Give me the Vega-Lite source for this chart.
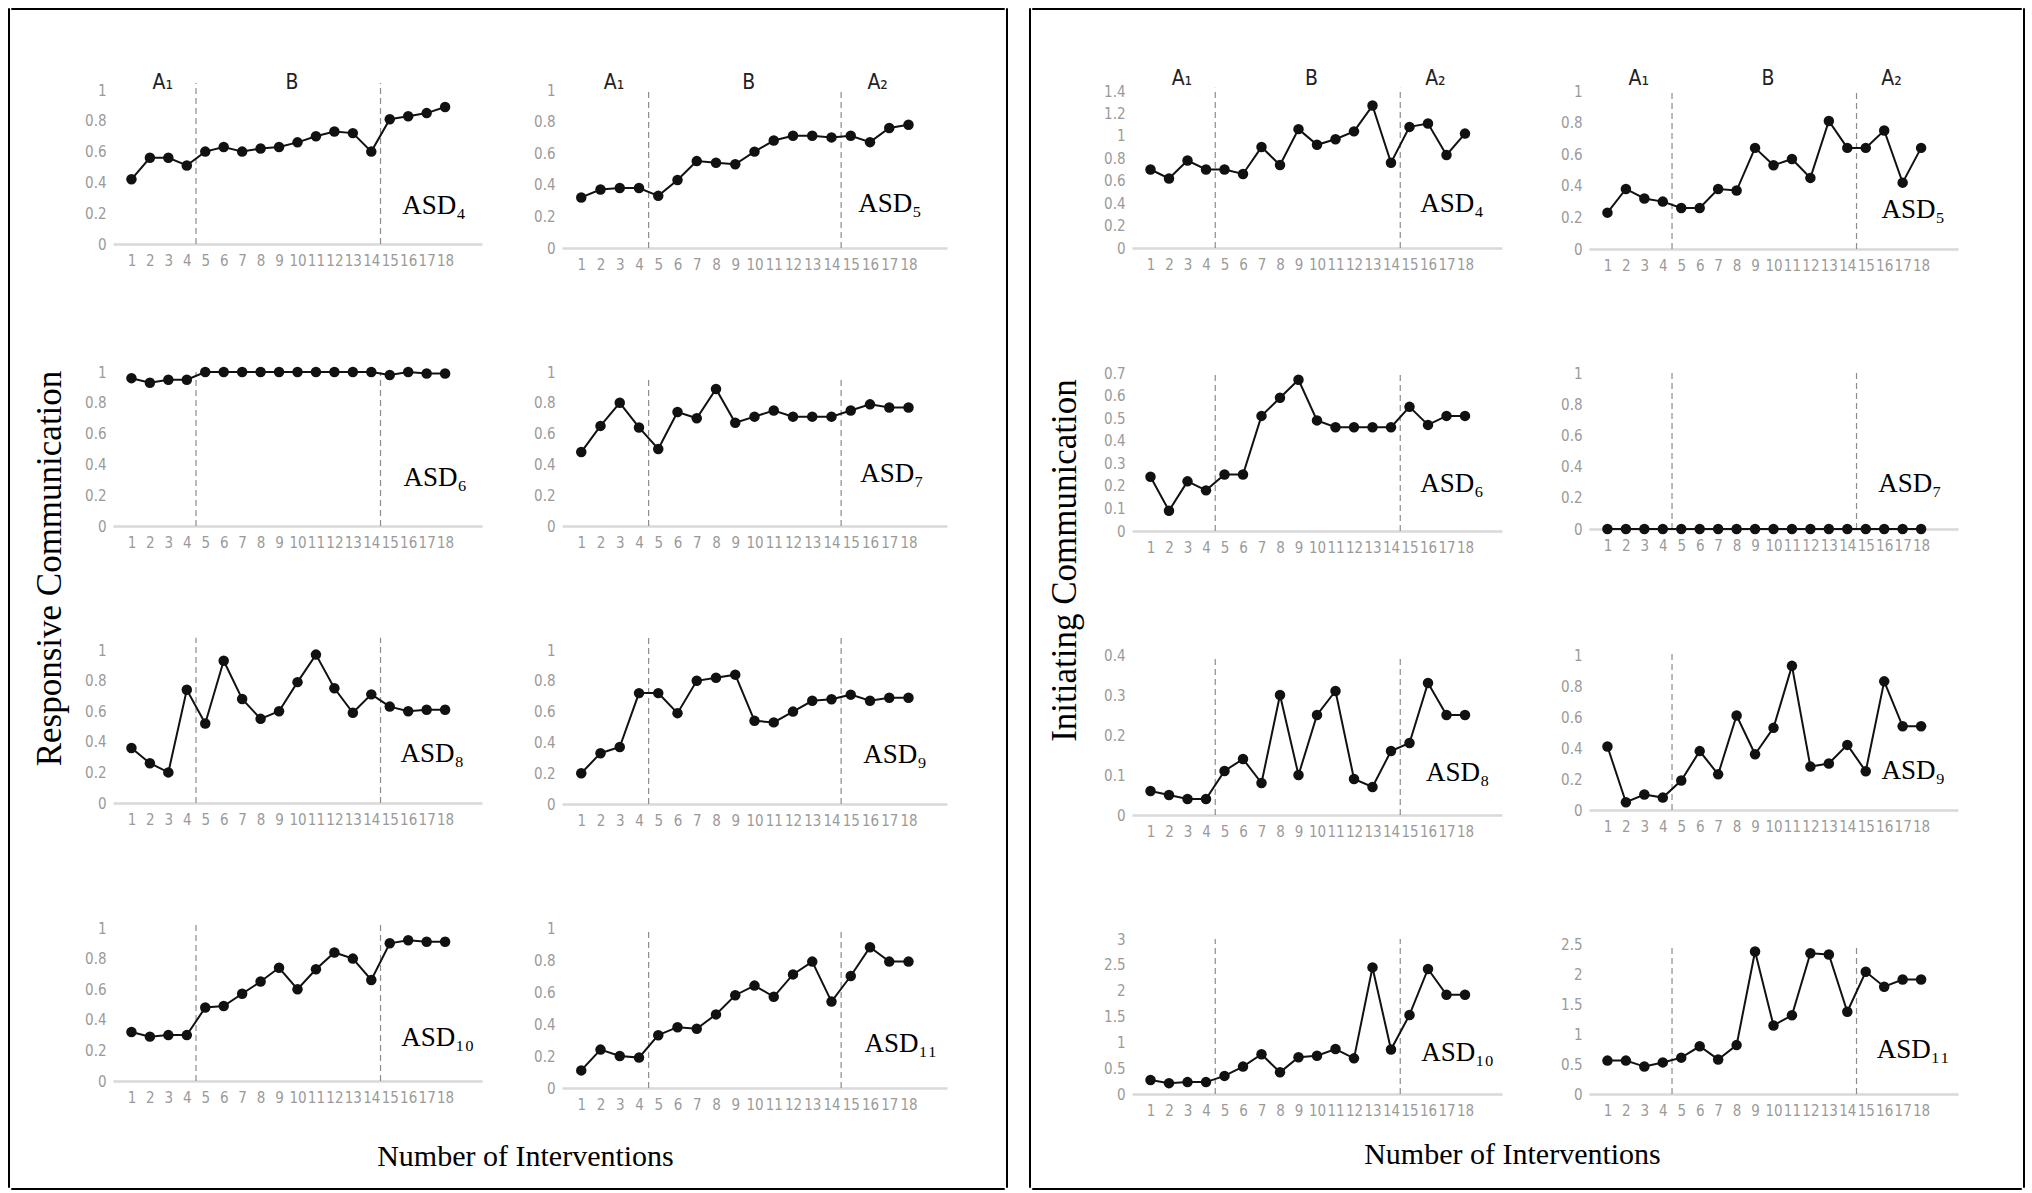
{
  "$schema": "https://vega.github.io/schema/vega-lite/v6.json",
  "background": "white",
  "padding": {"left": 7, "top": 7, "right": 0, "bottom": 0},
  "datasets": {
    "bounds": [{"x": 4.5}, {"x": 14.5}],
    "phases": [{"p": "A₁", "x": 2.7}, {"p": "B", "x": 9.7}, {"p": "A₂", "x": 16.4}],
    "resp": [
      {"a":4,"s":1,"v":0.42},{"a":4,"s":2,"v":0.56},{"a":4,"s":3,"v":0.56},{"a":4,"s":4,"v":0.51},{"a":4,"s":5,"v":0.6},{"a":4,"s":6,"v":0.63},{"a":4,"s":7,"v":0.6},{"a":4,"s":8,"v":0.62},{"a":4,"s":9,"v":0.63},{"a":4,"s":10,"v":0.66},{"a":4,"s":11,"v":0.7},{"a":4,"s":12,"v":0.73},{"a":4,"s":13,"v":0.72},{"a":4,"s":14,"v":0.6},{"a":4,"s":15,"v":0.81},{"a":4,"s":16,"v":0.83},{"a":4,"s":17,"v":0.85},{"a":4,"s":18,"v":0.89},
      {"a":5,"s":1,"v":0.32},{"a":5,"s":2,"v":0.37},{"a":5,"s":3,"v":0.38},{"a":5,"s":4,"v":0.38},{"a":5,"s":5,"v":0.33},{"a":5,"s":6,"v":0.43},{"a":5,"s":7,"v":0.55},{"a":5,"s":8,"v":0.54},{"a":5,"s":9,"v":0.53},{"a":5,"s":10,"v":0.61},{"a":5,"s":11,"v":0.68},{"a":5,"s":12,"v":0.71},{"a":5,"s":13,"v":0.71},{"a":5,"s":14,"v":0.7},{"a":5,"s":15,"v":0.71},{"a":5,"s":16,"v":0.67},{"a":5,"s":17,"v":0.76},{"a":5,"s":18,"v":0.78},
      {"a":6,"s":1,"v":0.96},{"a":6,"s":2,"v":0.93},{"a":6,"s":3,"v":0.95},{"a":6,"s":4,"v":0.95},{"a":6,"s":5,"v":1},{"a":6,"s":6,"v":1},{"a":6,"s":7,"v":1},{"a":6,"s":8,"v":1},{"a":6,"s":9,"v":1},{"a":6,"s":10,"v":1},{"a":6,"s":11,"v":1},{"a":6,"s":12,"v":1},{"a":6,"s":13,"v":1},{"a":6,"s":14,"v":1},{"a":6,"s":15,"v":0.98},{"a":6,"s":16,"v":1},{"a":6,"s":17,"v":0.99},{"a":6,"s":18,"v":0.99},
      {"a":7,"s":1,"v":0.48},{"a":7,"s":2,"v":0.65},{"a":7,"s":3,"v":0.8},{"a":7,"s":4,"v":0.64},{"a":7,"s":5,"v":0.5},{"a":7,"s":6,"v":0.74},{"a":7,"s":7,"v":0.7},{"a":7,"s":8,"v":0.89},{"a":7,"s":9,"v":0.67},{"a":7,"s":10,"v":0.71},{"a":7,"s":11,"v":0.75},{"a":7,"s":12,"v":0.71},{"a":7,"s":13,"v":0.71},{"a":7,"s":14,"v":0.71},{"a":7,"s":15,"v":0.75},{"a":7,"s":16,"v":0.79},{"a":7,"s":17,"v":0.77},{"a":7,"s":18,"v":0.77},
      {"a":8,"s":1,"v":0.36},{"a":8,"s":2,"v":0.26},{"a":8,"s":3,"v":0.2},{"a":8,"s":4,"v":0.74},{"a":8,"s":5,"v":0.52},{"a":8,"s":6,"v":0.93},{"a":8,"s":7,"v":0.68},{"a":8,"s":8,"v":0.55},{"a":8,"s":9,"v":0.6},{"a":8,"s":10,"v":0.79},{"a":8,"s":11,"v":0.97},{"a":8,"s":12,"v":0.75},{"a":8,"s":13,"v":0.59},{"a":8,"s":14,"v":0.71},{"a":8,"s":15,"v":0.63},{"a":8,"s":16,"v":0.6},{"a":8,"s":17,"v":0.61},{"a":8,"s":18,"v":0.61},
      {"a":9,"s":1,"v":0.2},{"a":9,"s":2,"v":0.33},{"a":9,"s":3,"v":0.37},{"a":9,"s":4,"v":0.72},{"a":9,"s":5,"v":0.72},{"a":9,"s":6,"v":0.59},{"a":9,"s":7,"v":0.8},{"a":9,"s":8,"v":0.82},{"a":9,"s":9,"v":0.84},{"a":9,"s":10,"v":0.54},{"a":9,"s":11,"v":0.53},{"a":9,"s":12,"v":0.6},{"a":9,"s":13,"v":0.67},{"a":9,"s":14,"v":0.68},{"a":9,"s":15,"v":0.71},{"a":9,"s":16,"v":0.67},{"a":9,"s":17,"v":0.69},{"a":9,"s":18,"v":0.69},
      {"a":10,"s":1,"v":0.32},{"a":10,"s":2,"v":0.29},{"a":10,"s":3,"v":0.3},{"a":10,"s":4,"v":0.3},{"a":10,"s":5,"v":0.48},{"a":10,"s":6,"v":0.49},{"a":10,"s":7,"v":0.57},{"a":10,"s":8,"v":0.65},{"a":10,"s":9,"v":0.74},{"a":10,"s":10,"v":0.6},{"a":10,"s":11,"v":0.73},{"a":10,"s":12,"v":0.84},{"a":10,"s":13,"v":0.8},{"a":10,"s":14,"v":0.66},{"a":10,"s":15,"v":0.9},{"a":10,"s":16,"v":0.92},{"a":10,"s":17,"v":0.91},{"a":10,"s":18,"v":0.91},
      {"a":11,"s":1,"v":0.11},{"a":11,"s":2,"v":0.24},{"a":11,"s":3,"v":0.2},{"a":11,"s":4,"v":0.19},{"a":11,"s":5,"v":0.33},{"a":11,"s":6,"v":0.38},{"a":11,"s":7,"v":0.37},{"a":11,"s":8,"v":0.46},{"a":11,"s":9,"v":0.58},{"a":11,"s":10,"v":0.64},{"a":11,"s":11,"v":0.57},{"a":11,"s":12,"v":0.71},{"a":11,"s":13,"v":0.79},{"a":11,"s":14,"v":0.54},{"a":11,"s":15,"v":0.7},{"a":11,"s":16,"v":0.88},{"a":11,"s":17,"v":0.79},{"a":11,"s":18,"v":0.79}
    ],
    "init": [
      {"a":4,"s":1,"v":0.7},{"a":4,"s":2,"v":0.62},{"a":4,"s":3,"v":0.78},{"a":4,"s":4,"v":0.7},{"a":4,"s":5,"v":0.7},{"a":4,"s":6,"v":0.66},{"a":4,"s":7,"v":0.9},{"a":4,"s":8,"v":0.74},{"a":4,"s":9,"v":1.06},{"a":4,"s":10,"v":0.92},{"a":4,"s":11,"v":0.97},{"a":4,"s":12,"v":1.04},{"a":4,"s":13,"v":1.27},{"a":4,"s":14,"v":0.76},{"a":4,"s":15,"v":1.08},{"a":4,"s":16,"v":1.11},{"a":4,"s":17,"v":0.83},{"a":4,"s":18,"v":1.02},
      {"a":5,"s":1,"v":0.23},{"a":5,"s":2,"v":0.38},{"a":5,"s":3,"v":0.32},{"a":5,"s":4,"v":0.3},{"a":5,"s":5,"v":0.26},{"a":5,"s":6,"v":0.26},{"a":5,"s":7,"v":0.38},{"a":5,"s":8,"v":0.37},{"a":5,"s":9,"v":0.64},{"a":5,"s":10,"v":0.53},{"a":5,"s":11,"v":0.57},{"a":5,"s":12,"v":0.45},{"a":5,"s":13,"v":0.81},{"a":5,"s":14,"v":0.64},{"a":5,"s":15,"v":0.64},{"a":5,"s":16,"v":0.75},{"a":5,"s":17,"v":0.42},{"a":5,"s":18,"v":0.64},
      {"a":6,"s":1,"v":0.24},{"a":6,"s":2,"v":0.09},{"a":6,"s":3,"v":0.22},{"a":6,"s":4,"v":0.18},{"a":6,"s":5,"v":0.25},{"a":6,"s":6,"v":0.25},{"a":6,"s":7,"v":0.51},{"a":6,"s":8,"v":0.59},{"a":6,"s":9,"v":0.67},{"a":6,"s":10,"v":0.49},{"a":6,"s":11,"v":0.46},{"a":6,"s":12,"v":0.46},{"a":6,"s":13,"v":0.46},{"a":6,"s":14,"v":0.46},{"a":6,"s":15,"v":0.55},{"a":6,"s":16,"v":0.47},{"a":6,"s":17,"v":0.51},{"a":6,"s":18,"v":0.51},
      {"a":7,"s":1,"v":0},{"a":7,"s":2,"v":0},{"a":7,"s":3,"v":0},{"a":7,"s":4,"v":0},{"a":7,"s":5,"v":0},{"a":7,"s":6,"v":0},{"a":7,"s":7,"v":0},{"a":7,"s":8,"v":0},{"a":7,"s":9,"v":0},{"a":7,"s":10,"v":0},{"a":7,"s":11,"v":0},{"a":7,"s":12,"v":0},{"a":7,"s":13,"v":0},{"a":7,"s":14,"v":0},{"a":7,"s":15,"v":0},{"a":7,"s":16,"v":0},{"a":7,"s":17,"v":0},{"a":7,"s":18,"v":0},
      {"a":8,"s":1,"v":0.06},{"a":8,"s":2,"v":0.05},{"a":8,"s":3,"v":0.04},{"a":8,"s":4,"v":0.04},{"a":8,"s":5,"v":0.11},{"a":8,"s":6,"v":0.14},{"a":8,"s":7,"v":0.08},{"a":8,"s":8,"v":0.3},{"a":8,"s":9,"v":0.1},{"a":8,"s":10,"v":0.25},{"a":8,"s":11,"v":0.31},{"a":8,"s":12,"v":0.09},{"a":8,"s":13,"v":0.07},{"a":8,"s":14,"v":0.16},{"a":8,"s":15,"v":0.18},{"a":8,"s":16,"v":0.33},{"a":8,"s":17,"v":0.25},{"a":8,"s":18,"v":0.25},
      {"a":9,"s":1,"v":0.41},{"a":9,"s":2,"v":0.05},{"a":9,"s":3,"v":0.1},{"a":9,"s":4,"v":0.08},{"a":9,"s":5,"v":0.19},{"a":9,"s":6,"v":0.38},{"a":9,"s":7,"v":0.23},{"a":9,"s":8,"v":0.61},{"a":9,"s":9,"v":0.36},{"a":9,"s":10,"v":0.53},{"a":9,"s":11,"v":0.93},{"a":9,"s":12,"v":0.28},{"a":9,"s":13,"v":0.3},{"a":9,"s":14,"v":0.42},{"a":9,"s":15,"v":0.25},{"a":9,"s":16,"v":0.83},{"a":9,"s":17,"v":0.54},{"a":9,"s":18,"v":0.54},
      {"a":10,"s":1,"v":0.27},{"a":10,"s":2,"v":0.21},{"a":10,"s":3,"v":0.23},{"a":10,"s":4,"v":0.23},{"a":10,"s":5,"v":0.35},{"a":10,"s":6,"v":0.53},{"a":10,"s":7,"v":0.77},{"a":10,"s":8,"v":0.42},{"a":10,"s":9,"v":0.71},{"a":10,"s":10,"v":0.74},{"a":10,"s":11,"v":0.87},{"a":10,"s":12,"v":0.69},{"a":10,"s":13,"v":2.45},{"a":10,"s":14,"v":0.86},{"a":10,"s":15,"v":1.53},{"a":10,"s":16,"v":2.42},{"a":10,"s":17,"v":1.92},{"a":10,"s":18,"v":1.92},
      {"a":11,"s":1,"v":0.56},{"a":11,"s":2,"v":0.56},{"a":11,"s":3,"v":0.46},{"a":11,"s":4,"v":0.53},{"a":11,"s":5,"v":0.61},{"a":11,"s":6,"v":0.8},{"a":11,"s":7,"v":0.58},{"a":11,"s":8,"v":0.82},{"a":11,"s":9,"v":2.39},{"a":11,"s":10,"v":1.15},{"a":11,"s":11,"v":1.32},{"a":11,"s":12,"v":2.36},{"a":11,"s":13,"v":2.34},{"a":11,"s":14,"v":1.38},{"a":11,"s":15,"v":2.05},{"a":11,"s":16,"v":1.8},{"a":11,"s":17,"v":1.92},{"a":11,"s":18,"v":1.92}
    ]
  },
  "spacing": 20,
  "hconcat": [
    {
      "spacing": 0,
      "hconcat": [
        {"width": 1, "height": 1179, "data": {"values": []}, "mark": "point", "view": {"stroke": "#000", "strokeWidth": 1}},
        {
          "spacing": 61,
          "vconcat": [
            {"width": 993, "height": 1, "data": {"values": []}, "mark": "point", "view": {"stroke": "#000", "strokeWidth": 1}},
            {
              "spacing": 16,
              "vconcat": [
                {
                  "spacing": 20,
                  "hconcat": [
                    {"width": 1, "height": 1, "data": {"values": []}, "mark": "point"},
                    {
                      "columns": 2,
                      "spacing": {"row": 124, "column": 80},
                      "bounds": "flush",
                      "concat": [
                        {"width": 369, "height": 154, "layer": [
                          {"data": {"name": "bounds"}, "mark": {"type": "rule", "color": "#8c8c8c", "strokeDash": [6, 4], "strokeWidth": 1.2}, "encoding": {"x": {"field": "x", "type": "quantitative"}, "y": {"datum": 0}, "y2": {"datum": 1.045}}},
                          {"data": {"name": "resp"}, "transform": [{"filter": "datum.a == 4"}], "mark": {"type": "line", "color": "#111", "strokeWidth": 2, "point": {"filled": true, "size": 110, "color": "#111"}}, "encoding": {"x": {"field": "s", "type": "quantitative", "scale": {"domain": [0.5, 18.5]}, "axis": {"values": [1,2,3,4,5,6,7,8,9,10,11,12,13,14,15,16,17,18], "format": "d", "tickCount": 30, "labelOverlap": false, "title": null}}, "y": {"field": "v", "type": "quantitative", "scale": {"domain": [0, 1]}, "axis": {"values": [0,0.2,0.4,0.6,0.8,1], "tickCount": 30, "format": "~g", "labelOverlap": false, "title": null}}}},
                          {"data": {"name": "phases"}, "transform": [{"filter": "datum.p != 'A₂'"}], "mark": {"type": "text", "font": "Liberation Sans Narrow, DejaVu Sans Condensed, Liberation Sans, sans-serif", "fontSize": 21, "color": "#222"}, "encoding": {"x": {"field": "x", "type": "quantitative"}, "y": {"datum": 1.045}, "text": {"field": "p"}}},
                          {"data": {"values": [{"t": "ASD₄"}]}, "mark": {"type": "text", "font": "Liberation Serif", "fontSize": 27}, "encoding": {"x": {"datum": 17.4}, "y": {"datum": 0.25}, "text": {"field": "t"}}}
                        ]},
                        {"width": 385, "height": 158, "layer": [
                          {"data": {"name": "bounds"}, "mark": {"type": "rule", "color": "#8c8c8c", "strokeDash": [6, 4], "strokeWidth": 1.2}, "encoding": {"x": {"field": "x", "type": "quantitative"}, "y": {"datum": 0}, "y2": {"datum": 1.0}}},
                          {"data": {"name": "resp"}, "transform": [{"filter": "datum.a == 5"}], "mark": {"type": "line", "color": "#111", "strokeWidth": 2, "point": {"filled": true, "size": 110, "color": "#111"}}, "encoding": {"x": {"field": "s", "type": "quantitative", "scale": {"domain": [0.5, 18.5]}, "axis": {"values": [1,2,3,4,5,6,7,8,9,10,11,12,13,14,15,16,17,18], "format": "d", "tickCount": 30, "labelOverlap": false, "title": null}}, "y": {"field": "v", "type": "quantitative", "scale": {"domain": [0, 1]}, "axis": {"values": [0,0.2,0.4,0.6,0.8,1], "tickCount": 30, "format": "~g", "labelOverlap": false, "title": null}}}},
                          {"data": {"name": "phases"}, "mark": {"type": "text", "font": "Liberation Sans Narrow, DejaVu Sans Condensed, Liberation Sans, sans-serif", "fontSize": 21, "color": "#222"}, "encoding": {"x": {"field": "x", "type": "quantitative"}, "y": {"datum": 1.045}, "text": {"field": "p"}}},
                          {"data": {"values": [{"t": "ASD₅"}]}, "mark": {"type": "text", "font": "Liberation Serif", "fontSize": 27}, "encoding": {"x": {"datum": 17.04}, "y": {"datum": 0.28}, "text": {"field": "t"}}}
                        ]},
                        {"width": 369, "height": 154, "layer": [
                          {"data": {"name": "bounds"}, "mark": {"type": "rule", "color": "#8c8c8c", "strokeDash": [6, 4], "strokeWidth": 1.2}, "encoding": {"x": {"field": "x", "type": "quantitative"}, "y": {"datum": 0}, "y2": {"datum": 1.0}}},
                          {"data": {"name": "resp"}, "transform": [{"filter": "datum.a == 6"}], "mark": {"type": "line", "color": "#111", "strokeWidth": 2, "point": {"filled": true, "size": 110, "color": "#111"}}, "encoding": {"x": {"field": "s", "type": "quantitative", "scale": {"domain": [0.5, 18.5]}, "axis": {"values": [1,2,3,4,5,6,7,8,9,10,11,12,13,14,15,16,17,18], "format": "d", "tickCount": 30, "labelOverlap": false, "title": null}}, "y": {"field": "v", "type": "quantitative", "scale": {"domain": [0, 1]}, "axis": {"values": [0,0.2,0.4,0.6,0.8,1], "tickCount": 30, "format": "~g", "labelOverlap": false, "title": null}}}},
                          {"data": {"values": [{"t": "ASD₆"}]}, "mark": {"type": "text", "font": "Liberation Serif", "fontSize": 27}, "encoding": {"x": {"datum": 17.47}, "y": {"datum": 0.31}, "text": {"field": "t"}}}
                        ]},
                        {"width": 385, "height": 154, "layer": [
                          {"data": {"name": "bounds"}, "mark": {"type": "rule", "color": "#8c8c8c", "strokeDash": [6, 4], "strokeWidth": 1.2}, "encoding": {"x": {"field": "x", "type": "quantitative"}, "y": {"datum": 0}, "y2": {"datum": 0.95}}},
                          {"data": {"name": "resp"}, "transform": [{"filter": "datum.a == 7"}], "mark": {"type": "line", "color": "#111", "strokeWidth": 2, "point": {"filled": true, "size": 110, "color": "#111"}}, "encoding": {"x": {"field": "s", "type": "quantitative", "scale": {"domain": [0.5, 18.5]}, "axis": {"values": [1,2,3,4,5,6,7,8,9,10,11,12,13,14,15,16,17,18], "format": "d", "tickCount": 30, "labelOverlap": false, "title": null}}, "y": {"field": "v", "type": "quantitative", "scale": {"domain": [0, 1]}, "axis": {"values": [0,0.2,0.4,0.6,0.8,1], "tickCount": 30, "format": "~g", "labelOverlap": false, "title": null}}}},
                          {"data": {"values": [{"t": "ASD₇"}]}, "mark": {"type": "text", "font": "Liberation Serif", "fontSize": 27}, "encoding": {"x": {"datum": 17.14}, "y": {"datum": 0.34}, "text": {"field": "t"}}}
                        ]},
                        {"width": 369, "height": 153, "layer": [
                          {"data": {"name": "bounds"}, "mark": {"type": "rule", "color": "#8c8c8c", "strokeDash": [6, 4], "strokeWidth": 1.2}, "encoding": {"x": {"field": "x", "type": "quantitative"}, "y": {"datum": 0}, "y2": {"datum": 1.08}}},
                          {"data": {"name": "resp"}, "transform": [{"filter": "datum.a == 8"}], "mark": {"type": "line", "color": "#111", "strokeWidth": 2, "point": {"filled": true, "size": 110, "color": "#111"}}, "encoding": {"x": {"field": "s", "type": "quantitative", "scale": {"domain": [0.5, 18.5]}, "axis": {"values": [1,2,3,4,5,6,7,8,9,10,11,12,13,14,15,16,17,18], "format": "d", "tickCount": 30, "labelOverlap": false, "title": null}}, "y": {"field": "v", "type": "quantitative", "scale": {"domain": [0, 1]}, "axis": {"values": [0,0.2,0.4,0.6,0.8,1], "tickCount": 30, "format": "~g", "labelOverlap": false, "title": "Responsive Communication", "titleX": -64, "titleY": -82, "titleBaseline": "middle", "titleAlign": "center", "titleFontSize": 35}}}},
                          {"data": {"values": [{"t": "ASD₈"}]}, "mark": {"type": "text", "font": "Liberation Serif", "fontSize": 27}, "encoding": {"x": {"datum": 17.3}, "y": {"datum": 0.32}, "text": {"field": "t"}}}
                        ]},
                        {"width": 385, "height": 154, "layer": [
                          {"data": {"name": "bounds"}, "mark": {"type": "rule", "color": "#8c8c8c", "strokeDash": [6, 4], "strokeWidth": 1.2}, "encoding": {"x": {"field": "x", "type": "quantitative"}, "y": {"datum": 0}, "y2": {"datum": 1.08}}},
                          {"data": {"name": "resp"}, "transform": [{"filter": "datum.a == 9"}], "mark": {"type": "line", "color": "#111", "strokeWidth": 2, "point": {"filled": true, "size": 110, "color": "#111"}}, "encoding": {"x": {"field": "s", "type": "quantitative", "scale": {"domain": [0.5, 18.5]}, "axis": {"values": [1,2,3,4,5,6,7,8,9,10,11,12,13,14,15,16,17,18], "format": "d", "tickCount": 30, "labelOverlap": false, "title": null}}, "y": {"field": "v", "type": "quantitative", "scale": {"domain": [0, 1]}, "axis": {"values": [0,0.2,0.4,0.6,0.8,1], "tickCount": 30, "format": "~g", "labelOverlap": false, "title": null}}}},
                          {"data": {"values": [{"t": "ASD₉"}]}, "mark": {"type": "text", "font": "Liberation Serif", "fontSize": 27}, "encoding": {"x": {"datum": 17.3}, "y": {"datum": 0.32}, "text": {"field": "t"}}}
                        ]},
                        {"width": 369, "height": 153, "layer": [
                          {"data": {"name": "bounds"}, "mark": {"type": "rule", "color": "#8c8c8c", "strokeDash": [6, 4], "strokeWidth": 1.2}, "encoding": {"x": {"field": "x", "type": "quantitative"}, "y": {"datum": 0}, "y2": {"datum": 1.03}}},
                          {"data": {"name": "resp"}, "transform": [{"filter": "datum.a == 10"}], "mark": {"type": "line", "color": "#111", "strokeWidth": 2, "point": {"filled": true, "size": 110, "color": "#111"}}, "encoding": {"x": {"field": "s", "type": "quantitative", "scale": {"domain": [0.5, 18.5]}, "axis": {"values": [1,2,3,4,5,6,7,8,9,10,11,12,13,14,15,16,17,18], "format": "d", "tickCount": 30, "labelOverlap": false, "title": "Number of Interventions", "titleX": 412, "titleY": 75, "titleBaseline": "middle", "titleAlign": "center", "titleFontSize": 30}}, "y": {"field": "v", "type": "quantitative", "scale": {"domain": [0, 1]}, "axis": {"values": [0,0.2,0.4,0.6,0.8,1], "tickCount": 30, "format": "~g", "labelOverlap": false, "title": null}}}},
                          {"data": {"values": [{"t": "ASD₁₀"}]}, "mark": {"type": "text", "font": "Liberation Serif", "fontSize": 27}, "encoding": {"x": {"datum": 17.6}, "y": {"datum": 0.28}, "text": {"field": "t"}}}
                        ]},
                        {"width": 385, "height": 160, "layer": [
                          {"data": {"name": "bounds"}, "mark": {"type": "rule", "color": "#8c8c8c", "strokeDash": [6, 4], "strokeWidth": 1.2}, "encoding": {"x": {"field": "x", "type": "quantitative"}, "y": {"datum": 0}, "y2": {"datum": 0.98}}},
                          {"data": {"name": "resp"}, "transform": [{"filter": "datum.a == 11"}], "mark": {"type": "line", "color": "#111", "strokeWidth": 2, "point": {"filled": true, "size": 110, "color": "#111"}}, "encoding": {"x": {"field": "s", "type": "quantitative", "scale": {"domain": [0.5, 18.5]}, "axis": {"values": [1,2,3,4,5,6,7,8,9,10,11,12,13,14,15,16,17,18], "format": "d", "tickCount": 30, "labelOverlap": false, "title": null}}, "y": {"field": "v", "type": "quantitative", "scale": {"domain": [0, 1]}, "axis": {"values": [0,0.2,0.4,0.6,0.8,1], "tickCount": 30, "format": "~g", "labelOverlap": false, "title": null}}}},
                          {"data": {"values": [{"t": "ASD₁₁"}]}, "mark": {"type": "text", "font": "Liberation Serif", "fontSize": 27}, "encoding": {"x": {"datum": 17.6}, "y": {"datum": 0.275}, "text": {"field": "t"}}}
                        ]}
                      ]
                    }
                  ]
                },
                {"width": 993, "height": 1, "data": {"values": []}, "mark": "point", "view": {"stroke": "#000", "strokeWidth": 1}}
              ]
            }
          ]
        },
        {"width": 1, "height": 1179, "data": {"values": []}, "mark": "point", "view": {"stroke": "#000", "strokeWidth": 1}}
      ]
    },
    {
      "spacing": 0,
      "hconcat": [
        {"width": 1, "height": 1179, "data": {"values": []}, "mark": "point", "view": {"stroke": "#000", "strokeWidth": 1}},
        {
          "spacing": 57,
          "vconcat": [
            {"width": 989, "height": 1, "data": {"values": []}, "mark": "point", "view": {"stroke": "#000", "strokeWidth": 1}},
            {
              "spacing": 18,
              "vconcat": [
                {
                  "spacing": 13,
                  "hconcat": [
                    {"width": 1, "height": 1, "data": {"values": []}, "mark": "point"},
                    {
                      "columns": 2,
                      "spacing": {"row": 124, "column": 87},
                      "bounds": "flush",
                      "concat": [
                        {"width": 370, "height": 157, "layer": [
                          {"data": {"name": "bounds"}, "mark": {"type": "rule", "color": "#8c8c8c", "strokeDash": [6, 4], "strokeWidth": 1.2}, "encoding": {"x": {"field": "x", "type": "quantitative"}, "y": {"datum": 0}, "y2": {"datum": 1.43}}},
                          {"data": {"name": "init"}, "transform": [{"filter": "datum.a == 4"}], "mark": {"type": "line", "color": "#111", "strokeWidth": 2, "point": {"filled": true, "size": 110, "color": "#111"}}, "encoding": {"x": {"field": "s", "type": "quantitative", "scale": {"domain": [0.5, 18.5]}, "axis": {"values": [1,2,3,4,5,6,7,8,9,10,11,12,13,14,15,16,17,18], "format": "d", "tickCount": 30, "labelOverlap": false, "title": null}}, "y": {"field": "v", "type": "quantitative", "scale": {"domain": [0, 1.4]}, "axis": {"values": [0,0.2,0.4,0.6,0.8,1,1.2,1.4], "tickCount": 30, "format": "~g", "labelOverlap": false, "title": null}}}},
                          {"data": {"name": "phases"}, "mark": {"type": "text", "font": "Liberation Sans Narrow, DejaVu Sans Condensed, Liberation Sans, sans-serif", "fontSize": 21, "color": "#222"}, "encoding": {"x": {"field": "x", "type": "quantitative"}, "y": {"datum": 1.507}, "text": {"field": "p"}}},
                          {"data": {"values": [{"t": "ASD₄"}]}, "mark": {"type": "text", "font": "Liberation Serif", "fontSize": 27}, "encoding": {"x": {"datum": 17.3}, "y": {"datum": 0.39}, "text": {"field": "t"}}}
                        ]},
                        {"width": 369, "height": 158, "layer": [
                          {"data": {"name": "bounds"}, "mark": {"type": "rule", "color": "#8c8c8c", "strokeDash": [6, 4], "strokeWidth": 1.2}, "encoding": {"x": {"field": "x", "type": "quantitative"}, "y": {"datum": 0}, "y2": {"datum": 1.0}}},
                          {"data": {"name": "init"}, "transform": [{"filter": "datum.a == 5"}], "mark": {"type": "line", "color": "#111", "strokeWidth": 2, "point": {"filled": true, "size": 110, "color": "#111"}}, "encoding": {"x": {"field": "s", "type": "quantitative", "scale": {"domain": [0.5, 18.5]}, "axis": {"values": [1,2,3,4,5,6,7,8,9,10,11,12,13,14,15,16,17,18], "format": "d", "tickCount": 30, "labelOverlap": false, "title": null}}, "y": {"field": "v", "type": "quantitative", "scale": {"domain": [0, 1]}, "axis": {"values": [0,0.2,0.4,0.6,0.8,1], "tickCount": 30, "format": "~g", "labelOverlap": false, "title": null}}}},
                          {"data": {"name": "phases"}, "mark": {"type": "text", "font": "Liberation Sans Narrow, DejaVu Sans Condensed, Liberation Sans, sans-serif", "fontSize": 21, "color": "#222"}, "encoding": {"x": {"field": "x", "type": "quantitative"}, "y": {"datum": 1.076}, "text": {"field": "p"}}},
                          {"data": {"values": [{"t": "ASD₅"}]}, "mark": {"type": "text", "font": "Liberation Serif", "fontSize": 27}, "encoding": {"x": {"datum": 17.57}, "y": {"datum": 0.25}, "text": {"field": "t"}}}
                        ]},
                        {"width": 370, "height": 158, "layer": [
                          {"data": {"name": "bounds"}, "mark": {"type": "rule", "color": "#8c8c8c", "strokeDash": [6, 4], "strokeWidth": 1.2}, "encoding": {"x": {"field": "x", "type": "quantitative"}, "y": {"datum": 0}, "y2": {"datum": 0.7}}},
                          {"data": {"name": "init"}, "transform": [{"filter": "datum.a == 6"}], "mark": {"type": "line", "color": "#111", "strokeWidth": 2, "point": {"filled": true, "size": 110, "color": "#111"}}, "encoding": {"x": {"field": "s", "type": "quantitative", "scale": {"domain": [0.5, 18.5]}, "axis": {"values": [1,2,3,4,5,6,7,8,9,10,11,12,13,14,15,16,17,18], "format": "d", "tickCount": 30, "labelOverlap": false, "title": null}}, "y": {"field": "v", "type": "quantitative", "scale": {"domain": [0, 0.7]}, "axis": {"values": [0,0.1,0.2,0.3,0.4,0.5,0.6,0.7], "tickCount": 30, "format": "~g", "labelOverlap": false, "title": null}}}},
                          {"data": {"values": [{"t": "ASD₆"}]}, "mark": {"type": "text", "font": "Liberation Serif", "fontSize": 27}, "encoding": {"x": {"datum": 17.3}, "y": {"datum": 0.21}, "text": {"field": "t"}}}
                        ]},
                        {"width": 369, "height": 156, "layer": [
                          {"data": {"name": "bounds"}, "mark": {"type": "rule", "color": "#8c8c8c", "strokeDash": [6, 4], "strokeWidth": 1.2}, "encoding": {"x": {"field": "x", "type": "quantitative"}, "y": {"datum": 0}, "y2": {"datum": 1.0}}},
                          {"data": {"name": "init"}, "transform": [{"filter": "datum.a == 7"}], "mark": {"type": "line", "color": "#111", "strokeWidth": 2, "point": {"filled": true, "size": 110, "color": "#111"}}, "encoding": {"x": {"field": "s", "type": "quantitative", "scale": {"domain": [0.5, 18.5]}, "axis": {"values": [1,2,3,4,5,6,7,8,9,10,11,12,13,14,15,16,17,18], "format": "d", "tickCount": 30, "labelOverlap": false, "title": null}}, "y": {"field": "v", "type": "quantitative", "scale": {"domain": [0, 1]}, "axis": {"values": [0,0.2,0.4,0.6,0.8,1], "tickCount": 30, "format": "~g", "labelOverlap": false, "title": null}}}},
                          {"data": {"values": [{"t": "ASD₇"}]}, "mark": {"type": "text", "font": "Liberation Serif", "fontSize": 27}, "encoding": {"x": {"datum": 17.4}, "y": {"datum": 0.29}, "text": {"field": "t"}}}
                        ]},
                        {"width": 370, "height": 160, "layer": [
                          {"data": {"name": "bounds"}, "mark": {"type": "rule", "color": "#8c8c8c", "strokeDash": [6, 4], "strokeWidth": 1.2}, "encoding": {"x": {"field": "x", "type": "quantitative"}, "y": {"datum": 0}, "y2": {"datum": 0.39}}},
                          {"data": {"name": "init"}, "transform": [{"filter": "datum.a == 8"}], "mark": {"type": "line", "color": "#111", "strokeWidth": 2, "point": {"filled": true, "size": 110, "color": "#111"}}, "encoding": {"x": {"field": "s", "type": "quantitative", "scale": {"domain": [0.5, 18.5]}, "axis": {"values": [1,2,3,4,5,6,7,8,9,10,11,12,13,14,15,16,17,18], "format": "d", "tickCount": 30, "labelOverlap": false, "title": null}}, "y": {"field": "v", "type": "quantitative", "scale": {"domain": [0, 0.4]}, "axis": {"values": [0,0.1,0.2,0.3,0.4], "tickCount": 30, "format": "~g", "labelOverlap": false, "title": "Initiating Communication", "titleX": -68, "titleY": -95, "titleBaseline": "middle", "titleAlign": "center", "titleFontSize": 35}}}},
                          {"data": {"values": [{"t": "ASD₈"}]}, "mark": {"type": "text", "font": "Liberation Serif", "fontSize": 27}, "encoding": {"x": {"datum": 17.6}, "y": {"datum": 0.105}, "text": {"field": "t"}}}
                        ]},
                        {"width": 369, "height": 155, "layer": [
                          {"data": {"name": "bounds"}, "transform": [{"filter": "datum.x < 5"}], "mark": {"type": "rule", "color": "#8c8c8c", "strokeDash": [6, 4], "strokeWidth": 1.2}, "encoding": {"x": {"field": "x", "type": "quantitative"}, "y": {"datum": 0}, "y2": {"datum": 1.03}}},
                          {"data": {"name": "init"}, "transform": [{"filter": "datum.a == 9"}], "mark": {"type": "line", "color": "#111", "strokeWidth": 2, "point": {"filled": true, "size": 110, "color": "#111"}}, "encoding": {"x": {"field": "s", "type": "quantitative", "scale": {"domain": [0.5, 18.5]}, "axis": {"values": [1,2,3,4,5,6,7,8,9,10,11,12,13,14,15,16,17,18], "format": "d", "tickCount": 30, "labelOverlap": false, "title": null}}, "y": {"field": "v", "type": "quantitative", "scale": {"domain": [0, 1]}, "axis": {"values": [0,0.2,0.4,0.6,0.8,1], "tickCount": 30, "format": "~g", "labelOverlap": false, "title": null}}}},
                          {"data": {"values": [{"t": "ASD₉"}]}, "mark": {"type": "text", "font": "Liberation Serif", "fontSize": 27}, "encoding": {"x": {"datum": 17.57}, "y": {"datum": 0.25}, "text": {"field": "t"}}}
                        ]},
                        {"width": 370, "height": 155, "layer": [
                          {"data": {"name": "bounds"}, "mark": {"type": "rule", "color": "#8c8c8c", "strokeDash": [6, 4], "strokeWidth": 1.2}, "encoding": {"x": {"field": "x", "type": "quantitative"}, "y": {"datum": 0}, "y2": {"datum": 3}}},
                          {"data": {"name": "init"}, "transform": [{"filter": "datum.a == 10"}], "mark": {"type": "line", "color": "#111", "strokeWidth": 2, "point": {"filled": true, "size": 110, "color": "#111"}}, "encoding": {"x": {"field": "s", "type": "quantitative", "scale": {"domain": [0.5, 18.5]}, "axis": {"values": [1,2,3,4,5,6,7,8,9,10,11,12,13,14,15,16,17,18], "format": "d", "tickCount": 30, "labelOverlap": false, "title": "Number of Interventions", "titleX": 380, "titleY": 60, "titleBaseline": "middle", "titleAlign": "center", "titleFontSize": 30}}, "y": {"field": "v", "type": "quantitative", "scale": {"domain": [0, 3]}, "axis": {"values": [0,0.5,1,1.5,2,2.5,3], "tickCount": 30, "format": "~g", "labelOverlap": false, "title": null}}}},
                          {"data": {"values": [{"t": "ASD₁₀"}]}, "mark": {"type": "text", "font": "Liberation Serif", "fontSize": 27}, "encoding": {"x": {"datum": 17.6}, "y": {"datum": 0.79}, "text": {"field": "t"}}}
                        ]},
                        {"width": 369, "height": 155, "layer": [
                          {"data": {"name": "bounds"}, "mark": {"type": "rule", "color": "#8c8c8c", "strokeDash": [6, 4], "strokeWidth": 1.2}, "encoding": {"x": {"field": "x", "type": "quantitative"}, "y": {"datum": 0}, "y2": {"datum": 2.5}}},
                          {"data": {"name": "init"}, "transform": [{"filter": "datum.a == 11"}], "mark": {"type": "line", "color": "#111", "strokeWidth": 2, "point": {"filled": true, "size": 110, "color": "#111"}}, "encoding": {"x": {"field": "s", "type": "quantitative", "scale": {"domain": [0.5, 18.5]}, "axis": {"values": [1,2,3,4,5,6,7,8,9,10,11,12,13,14,15,16,17,18], "format": "d", "tickCount": 30, "labelOverlap": false, "title": null}}, "y": {"field": "v", "type": "quantitative", "scale": {"domain": [0, 2.5]}, "axis": {"values": [0,0.5,1,1.5,2,2.5], "tickCount": 30, "format": "~g", "labelOverlap": false, "title": null}}}},
                          {"data": {"values": [{"t": "ASD₁₁"}]}, "mark": {"type": "text", "font": "Liberation Serif", "fontSize": 27}, "encoding": {"x": {"datum": 17.57}, "y": {"datum": 0.73}, "text": {"field": "t"}}}
                        ]}
                      ]
                    }
                  ]
                },
                {"width": 989, "height": 1, "data": {"values": []}, "mark": "point", "view": {"stroke": "#000", "strokeWidth": 1}}
              ]
            }
          ]
        },
        {"width": 1, "height": 1179, "data": {"values": []}, "mark": "point", "view": {"stroke": "#000", "strokeWidth": 1}}
      ]
    }
  ],
  "config": {
    "view": {"stroke": null},
    "axis": {
      "grid": false,
      "ticks": false,
      "labelColor": "#9a9a9a",
      "labelFont": "Liberation Sans Narrow, DejaVu Sans Condensed, Liberation Sans, sans-serif",
      "labelFontSize": 15,
      "labelFlush": false,
      "titleFont": "Liberation Serif",
      "titleFontWeight": "normal",
      "titleColor": "#000"
    },
    "axisX": {"domainColor": "#d9d9d9", "domainWidth": 2.5, "labelPadding": 9},
    "axisY": {"domain": false, "labelPadding": 7}
  }
}
